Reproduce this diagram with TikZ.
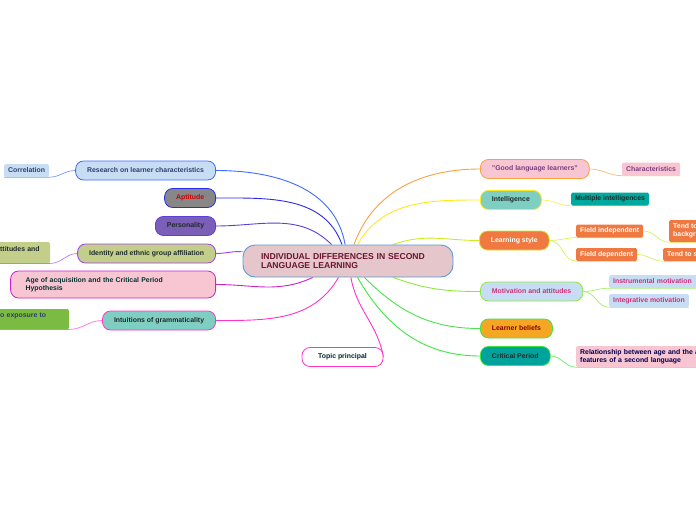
\documentclass[tikz,border=0pt]{standalone}
\usepackage{fontspec}
\setmainfont{Liberation Sans}
\usepackage{tikz}
\usetikzlibrary{backgrounds}

\begin{document}
\begin{tikzpicture}[x=1pt, y=1pt,
    font=\fontsize{6.9}{8}\selectfont\bfseries,
    branch/.style={draw, line width=0.8pt, rounded corners=8pt, minimum height=19pt, inner xsep=11.5pt, inner ysep=2pt},
    leaf/.style={rounded corners=1.5pt, minimum height=13pt, inner xsep=4pt, inner ysep=2pt},
    link/.style={line width=0.9pt},
    twig/.style={line width=0.7pt},
  ]
  \definecolor{cRoot}{HTML}{E5C6CA}\definecolor{cRootLine}{HTML}{5B9BD5}\definecolor{cRootText}{HTML}{6B1530}
  \definecolor{cBlue}{HTML}{C7DDF3}\definecolor{cBlueText}{HTML}{2E3F6E}\definecolor{cPink}{HTML}{F8C5D2}
  \definecolor{cTeal}{HTML}{7FCEC2}\definecolor{cDark}{HTML}{1F2A2A}\definecolor{cOrange}{HTML}{F07942}
  \definecolor{cGrey}{HTML}{878787}\definecolor{cPurple}{HTML}{7B5EB5}\definecolor{cOlive}{HTML}{C3CE8B}
  \definecolor{cGreen}{HTML}{7CBB42}\definecolor{cAmber}{HTML}{F5A623}\definecolor{cSea}{HTML}{00A39B}
  \definecolor{cSea2}{HTML}{00A99D}\definecolor{cMagenta}{HTML}{D0307A}\definecolor{cPlum}{HTML}{7B3F80}
  \definecolor{lResearch}{HTML}{3D6BFF}\definecolor{lAptitude}{HTML}{2A2AE8}\definecolor{lPerson}{HTML}{5A3FD8}
  \definecolor{lIdentity}{HTML}{A040F0}\definecolor{lAge}{HTML}{CC22CC}\definecolor{lIntuit}{HTML}{FF33CC}
  \definecolor{lGood}{HTML}{F9A03F}\definecolor{lIntel}{HTML}{FFE81A}\definecolor{lLearn}{HTML}{C8EE1E}
  \definecolor{lMotiv}{HTML}{8EEA3A}\definecolor{lBelief}{HTML}{4CE04C}\definecolor{lCrit}{HTML}{3CE83C}

  \useasboundingbox (0,0) rectangle (696,-520);
  \clip (0,0) rectangle (696,-520);

  \node[draw=cRootLine, fill=cRoot, line width=0.9pt, rounded corners=12pt, minimum width=210pt, minimum height=32pt,
        text width=174pt, inner xsep=18pt, align=left, text=cRootText, font=\fontsize{8.6}{9.6}\selectfont\bfseries]
        (root) at (348,-261) {INDIVIDUAL DIFFERENCES IN SECOND\\LANGUAGE LEARNING};

  \node[branch, draw=lResearch, fill=cBlue, text=cBlueText, anchor=east] (research) at (216,-170.5) {Research on learner characteristics};
  \node[branch, draw=lAptitude, fill=cGrey, text=red!80!black, anchor=east] (aptitude) at (216,-198) {Aptitude};
  \node[branch, draw=lPerson, fill=cPurple, text=cDark, anchor=east] (personality) at (216,-226) {Personality};
  \node[branch, draw=lIdentity, fill=cOlive, text=cDark, anchor=east] (identity) at (216,-253.5) {Identity and ethnic group affiliation};
  \node[branch, draw=lAge, fill=cPink, text=teal!40!black, anchor=east, minimum height=27pt, text width=175pt,
        inner xsep=15pt, align=left] (age) at (216,-284.5) {Age of acquisition and the Critical Period\\Hypothesis};
  \node[branch, draw=lIntuit, fill=cTeal, text=cDark, anchor=east] (intuitions) at (216,-320.5) {Intuitions of grammaticality};
  \node[branch, draw=lIntuit, fill=white, text=teal!30!black, minimum width=81pt] (topic) at (342.5,-357) {Topic principal};

  \node[leaf, fill=cBlue, text=cBlueText, anchor=west] (correlation) at (4,-170.5) {Correlation};
  \node[leaf, fill=cOlive, text=cDark, anchor=north west, text width=46pt, align=left, minimum height=21pt]
        (attitudes) at (-4,-242) {ttitudes and\\\mbox{}};
  \node[leaf, fill=cGreen, text=cBlueText, anchor=north west, text width=65pt, align=left, minimum height=20pt]
        (exposure) at (-4,-309) {o exposure to\\\mbox{}};

  \node[branch, draw=lGood, fill=cPink, text=cPlum, anchor=west] (good) at (480,-169) {"Good language learners"};
  \node[branch, draw=lIntel, fill=cTeal, text=cDark, anchor=west] (intelligence) at (480,-200) {Intelligence};
  \node[branch, draw=lLearn, fill=cOrange, text=white, anchor=west] (learning) at (479,-240.5) {Learning style};
  \node[branch, draw=lMotiv, fill=cBlue, text=cMagenta, anchor=west] (motivation) at (480,-291.5) {Motivation and attitudes};
  \node[branch, draw=lBelief, fill=cAmber, text=red!55!black, anchor=west] (beliefs) at (480,-328.5) {Learner beliefs};
  \node[branch, draw=lCrit, fill=cSea, text=cDark, anchor=west] (critical) at (480,-356) {Critical Period};

  \node[leaf, fill=cPink, text=cPlum, anchor=west] (characteristics) at (622,-169) {Characteristics};
  \node[leaf, fill=cSea2, text=cDark, anchor=west] (multiple) at (571,-199) {Multiple intelligences};
  \node[leaf, fill=cOrange, text=white, anchor=west] (fieldind) at (576,-231) {Field independent};
  \node[leaf, fill=cOrange, text=white, anchor=west] (fielddep) at (576,-254.5) {Field dependent};
  \node[leaf, fill=cOrange, text=white, anchor=west, align=left, minimum height=22pt] (tendbg) at (669,-231) {Tend to\\backgr};
  \node[leaf, fill=cOrange, text=white, anchor=west] (tends) at (663,-254.5) {Tend to s};
  \node[leaf, fill=cBlue, text=cMagenta, anchor=west, text width=86pt, align=left] (instrumental) at (609,-281.5) {Instrumental motivation};
  \node[leaf, fill=cBlue, text=cMagenta, anchor=west] (integrative) at (609,-300.5) {Integrative motivation};
  \node[leaf, fill=cPink, text=blue!30!black, anchor=west, align=left, minimum height=21pt, text width=130pt] (relation) at (576,-356.5)
        {Relationship between age and the a\\features of a second language};

  \begin{pgfonlayer}{background}
    \draw[link, lResearch] (root) to[out=100, in=0] (research.east);
    \draw[link, lAptitude] (root) to[out=110, in=0] (aptitude.east);
    \draw[link, lPerson] (root) to[out=135, in=0] (personality.east);
    \draw[link, lIdentity] (root) to[out=175, in=0] (identity.east);
    \draw[link, lAge] (root) to[out=205, in=0] (age.east);
    \draw[link, lIntuit] (root) to[out=240, in=0] (intuitions.east);
    \draw[link, lIntuit] (root) to[out=-80, in=100] (topic.east);
    \draw[link, lGood] (root) to[out=70, in=180] (good.west);
    \draw[link, lIntel] (root) to[out=60, in=180] (intelligence.west);
    \draw[link, lLearn] (root) to[out=20, in=180] (learning.west);
    \draw[link, lMotiv] (root) to[out=-20, in=180] (motivation.west);
    \draw[link, lBelief] (root) to[out=-45, in=180] (beliefs.west);
    \draw[link, lCrit] (root) to[out=-60, in=180] (critical.west);

    \draw[twig, lResearch!70] (research.west) to[out=180, in=0] (correlation.south east) -- (correlation.south west);
    \draw[twig, lIdentity!70] (identity.west) to[out=180, in=0] (attitudes.south east) -- (attitudes.south west);
    \draw[twig, lIntuit!70] (intuitions.west) to[out=180, in=0] (exposure.south east) -- (exposure.south west);
    \draw[twig, lGood!70] (good.east) to[out=0, in=180] (characteristics.south west) -- (characteristics.south east);
    \draw[twig, lIntel!75] (intelligence.east) to[out=0, in=180] (multiple.south west) -- (multiple.south east);
    \draw[twig, lLearn!75] (learning.east) to[out=0, in=180] (fieldind.south west) -- (fieldind.south east);
    \draw[twig, lLearn!75] (learning.east) to[out=0, in=180] (fielddep.south west) -- (fielddep.south east);
    \draw[twig, lLearn!75] (fieldind.east) to[out=0, in=180] (tendbg.south west) -- (tendbg.south east);
    \draw[twig, lLearn!75] (fielddep.east) to[out=0, in=180] (tends.south west) -- (tends.south east);
    \draw[twig, lMotiv!80] (motivation.east) to[out=0, in=180] (instrumental.south west) -- (instrumental.south east);
    \draw[twig, lMotiv!80] (motivation.east) to[out=0, in=180] (integrative.south west) -- (integrative.south east);
    \draw[twig, lCrit!80] (critical.east) to[out=0, in=180] (relation.south west) -- (relation.south east);
  \end{pgfonlayer}
\end{tikzpicture}
\end{document}
